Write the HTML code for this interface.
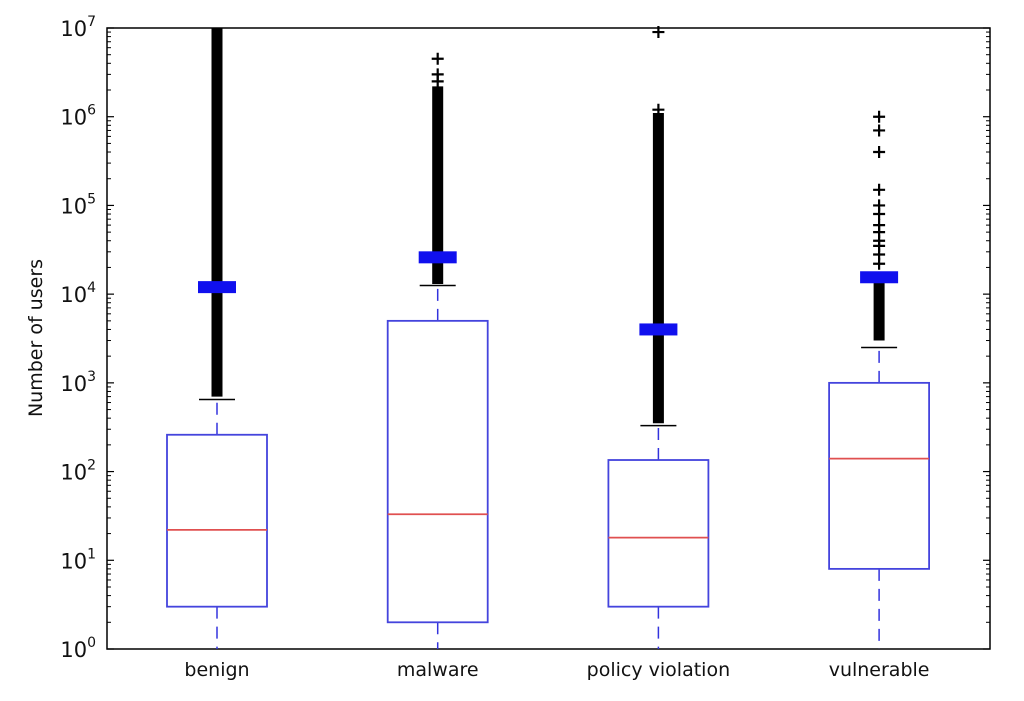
<!DOCTYPE html>
<html><head><meta charset="utf-8"><style>
body{margin:0;background:#fff;}
svg{display:block;font-family:"DejaVu Sans","Liberation Sans",sans-serif;}
</style></head><body>
<svg id="c" width="1024" height="701"></svg>
<script>
const categories=["benign","malware","policy violation","vulnerable"];
const q1=[3,2,3,8];
const q3=[260,5000,135,1000];
const medians=[22,33,18,140];
const whiskerLow=[1,1,1,1];
const whiskerHigh=[650,12500,330,2500];
const means=[12000,26000,4000,15500];
const denseOutlierMin=[700,13000,350,3000];
const denseOutlierMax=[10000000,2200000,1100000,18000];
const sparseOutliers=[[],[2500000,3000000,4500000],[1200000,9000000],[22000,28000,35000,40000,50000,60000,80000,100000,150000,400000,700000,1000000]];
const yTicks=[0,1,2,3,4,5,6,7];

const svg=document.getElementById('c');const NS='http://www.w3.org/2000/svg';
const L=107,R=990,T=28,B=649;
function y(v){return B-(Math.log10(v)-0)/7*(B-T);}
function x(i){return 217+i*220.7;}
function mk(tag,attrs,parent){const e=document.createElementNS(NS,tag);for(const k in attrs)e.setAttribute(k,attrs[k]);(parent||svg).appendChild(e);return e;}
let e;
e=mk('rect',{x:L,y:T,width:R-L,height:B-T,fill:'none',stroke:'#000','stroke-width':1.5});

yTicks.forEach(p=>{
 const yy=y(Math.pow(10,p));
 e=mk('line',{x1:L,x2:L+7,y1:yy,y2:yy,stroke:'#000','stroke-width':1.2});
 
 mk('line',{x1:R,x2:R-7,y1:yy,y2:yy,stroke:'#000','stroke-width':1.2});
 const t=mk('text',{x:96,y:yy+8,'text-anchor':'end','font-size':21,fill:'#111'});
 
 t.textContent='10';const s=mk('tspan',{dy:-10,'font-size':14},t);s.textContent=p;
 if(p<7)for(let m=2;m<10;m++){const ym=y(m*Math.pow(10,p));
  mk('line',{x1:L,x2:L+4,y1:ym,y2:ym,stroke:'#000','stroke-width':1});
  mk('line',{x1:R,x2:R-4,y1:ym,y2:ym,stroke:'#000','stroke-width':1});}
});
e=mk('text',{x:42,y:338,'text-anchor':'middle','font-size':19,fill:'#111',transform:'rotate(-90 42 338)'});
e.textContent='Number of users';
categories.forEach((c,i)=>{
 const cx=x(i),w=50;
 const g=mk('g',{});
 mk('line',{x1:cx,x2:cx,y1:y(q1[i]),y2:y(whiskerLow[i]),stroke:'#3333dd','stroke-width':1.5,'stroke-dasharray':'12,8'},g);
 mk('line',{x1:cx,x2:cx,y1:y(q3[i]),y2:y(whiskerHigh[i]),stroke:'#3333dd','stroke-width':1.5,'stroke-dasharray':'12,8'},g);
 mk('line',{x1:cx,x2:cx,y1:y(denseOutlierMin[i]),y2:y(denseOutlierMax[i]),stroke:'#000','stroke-width':11},g);
 sparseOutliers[i].forEach(v=>{const yy=y(v);
  mk('path',{d:`M${cx-6},${yy}h12M${cx},${yy-6}v12`,stroke:'#000','stroke-width':2.2},g);});
 mk('line',{x1:cx-18,x2:cx+18,y1:y(whiskerHigh[i]),y2:y(whiskerHigh[i]),stroke:'#000','stroke-width':1.5},g);
 mk('rect',{x:cx-w,y:y(q3[i]),width:2*w,height:y(q1[i])-y(q3[i]),fill:'none',stroke:'#4444dd','stroke-width':1.8},g);
 mk('line',{x1:cx-w,x2:cx+w,y1:y(medians[i]),y2:y(medians[i]),stroke:'#e05050','stroke-width':1.8},g);
 const m=mk('rect',{x:cx-19,y:y(means[i])-6,width:38,height:12,fill:'#1010ee'},g);
 const t=mk('text',{x:cx,y:676,'text-anchor':'middle','font-size':19,fill:'#111'});
 t.textContent=c;
});
</script>
</body></html>
